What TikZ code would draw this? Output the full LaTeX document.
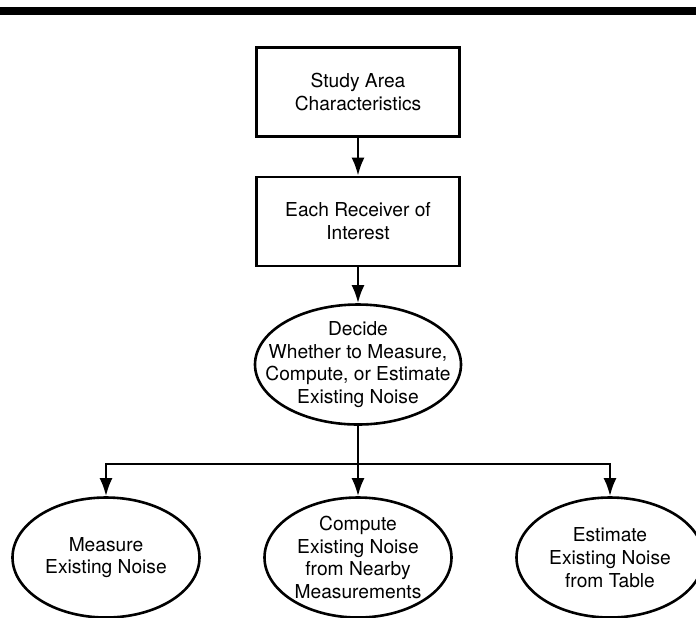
\documentclass[tikz,border=0pt]{standalone}
\usepackage{fontspec}
\setmainfont{TeX Gyre Heros}
\usetikzlibrary{arrows.meta, shapes.geometric, positioning}

\begin{document}
\begin{tikzpicture}[x=0.5pt, y=-0.5pt, font=\fontsize{9.6}{11.4}\selectfont,
                    box/.style = {draw, line width=1.3pt, minimum width=101.5pt, minimum height=44.5pt, align=center},
                    oval/.style = {draw, ellipse, line width=1.3pt, inner sep=-30pt, minimum width=93.5pt, minimum height=60pt, align=center},
                    arr/.style = {-{Latex[length=9pt, width=6.5pt]}, line width=1.3pt}]
                    \useasboundingbox (0,0) rectangle (696,617);
                    \fill (0,7) rectangle (696,15);
                    \node[box] (S) at (358,92) {Study Area\\Characteristics};
                    \node[box] (R) [node distance=64.75pt, below of=S] {Each Receiver of\\Interest};
                    \node[oval, minimum width=103pt] (D) [node distance=71.5pt, below of=R] {Decide\\Whether to Measure,\\Compute, or Estimate\\Existing Noise};
                    \node[oval] (C) [node distance=96.5pt, below of=D] {Compute\\Existing Noise\\from Nearby\\Measurements};
                    \node[oval] (M) [node distance=126pt, left of=C] {Measure\\Existing Noise};
                    \node[oval] (E) [node distance=126pt, right of=C] {Estimate\\Existing Noise\\from Table};
                    \coordinate[below=19pt of D.south] (split);
                    \draw[arr] (S) -- (R);
                    \draw[arr] (R) -- (D);
                    \draw[arr] (D) -- (C);
                    \draw[arr] (split) -| (M);
                    \draw[arr] (split) -| (E);
                \end{tikzpicture}
\end{document}
